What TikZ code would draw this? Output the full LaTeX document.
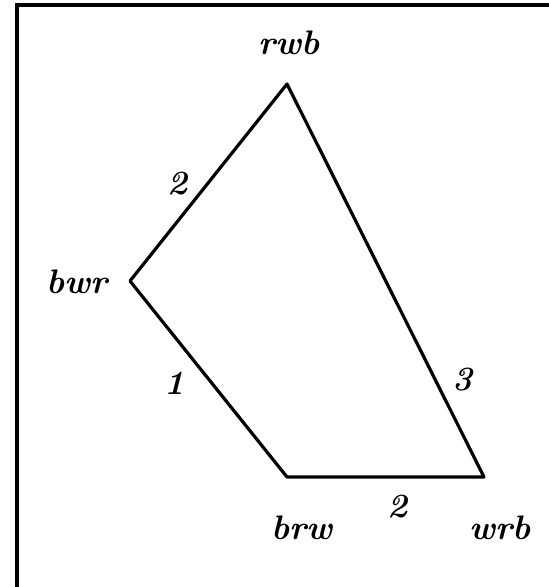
\documentclass[tikz,border=0pt]{standalone}
\usepackage{tikz}

\begin{document}
\begin{tikzpicture}[x=0.5pt, y=-0.5pt,
    edge/.style={line width=1.6pt, line cap=round, line join=round},
    tag/.style={font=\fontsize{17}{21}\selectfont\bfseries\itshape, inner sep=0pt}]
  \useasboundingbox (0,0) rectangle (549,587);
  % frame (only left and top edges are visible)
  \draw[line width=1.6pt] (17,587) -- (17,5) -- (549,5);

  % vertices
  \coordinate (rwb) at (287,84);
  \coordinate (bwr) at (130,281);
  \coordinate (brw) at (287,477);
  \coordinate (wrb) at (484,477);

  \draw[edge] (bwr) -- (rwb) -- (wrb) -- (brw) -- cycle;

  % vertex labels
  \node[tag] (lrwb) at (289,43) {rwb};
  \node[tag] (lbwr) at (77,282) {bwr};
  \node[tag] (lbrw) at (302,528) {brw};
  \node[tag] (lwrb) at (500,528) {wrb};

  % edge weights
  \node[tag] (w1) at (178,184) {2};
  \node[tag] (w2) at (175,383) {1};
  \node[tag] (w3) at (463,380) {3};
  \node[tag] (w4) at (398,507) {2};
\end{tikzpicture}
\end{document}
